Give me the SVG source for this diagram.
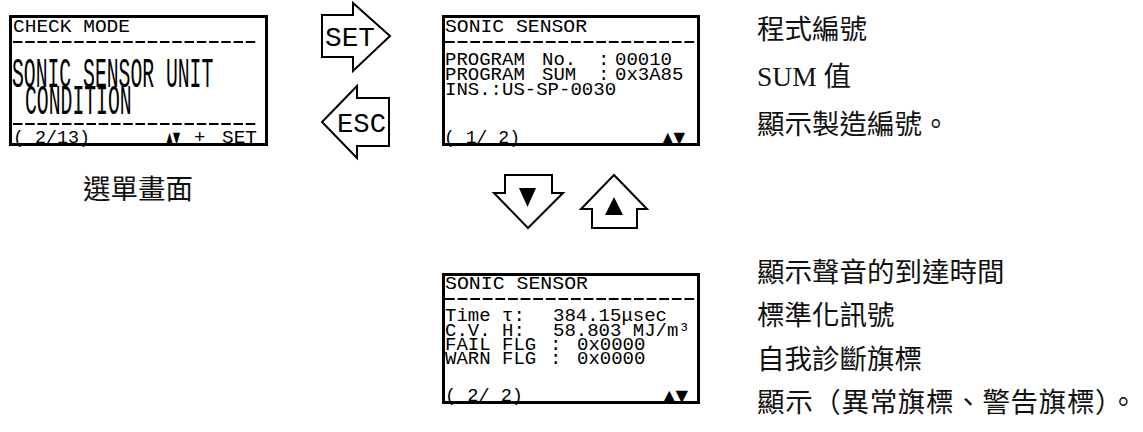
<svg xmlns="http://www.w3.org/2000/svg" width="1143" height="432" viewBox="0 0 1143 432">
<style>
.lcd{font-family:"Liberation Mono","DejaVu Sans Mono",monospace;font-size:19px;fill:#000}
.big{font-size:42px}
.sym{font-family:"DejaVu Sans",sans-serif;font-size:16px;fill:#000}
.box{fill:#fff;stroke:#000;stroke-width:3}
.dash{stroke:#000;stroke-width:2;fill:none}
.btn{fill:#fff;stroke:#000;stroke-width:2}
.btxt{font-family:"Liberation Mono","DejaVu Sans Mono",monospace;font-size:28px;fill:#000}
.lbl{font-family:"Liberation Serif","Noto Sans CJK TC",serif;font-size:27.5px;fill:#111}
</style>

<g id="screen-menu">
<rect class="box" x="10.5" y="16.5" width="256" height="128"/>
<text class="lcd" x="13" y="32" textLength="117" lengthAdjust="spacingAndGlyphs">CHECK MODE</text>
<line class="dash" x1="13" y1="42" x2="258" y2="42" stroke-dasharray="9.5 2.75"/>
<text class="lcd big" transform="translate(12,0) scale(0.47,1)"><tspan x="0" y="87">SONIC SENSOR UNIT</tspan><tspan x="27.7" y="114">CONDITION</tspan></text>
<line class="dash" x1="13" y1="124" x2="258" y2="124" stroke-dasharray="9.5 2.75"/>
<text class="lcd" x="13" y="143" textLength="77" lengthAdjust="spacingAndGlyphs">( 2/13)</text>
<text class="sym" x="166" y="143" textLength="14" lengthAdjust="spacingAndGlyphs">▲▼</text>
<text class="lcd" x="194" y="143">+</text>
<text class="lcd" x="222" y="143" textLength="35" lengthAdjust="spacingAndGlyphs">SET</text>
</g>

<g id="btn-set">
<polygon class="btn" points="322,15 353,15 353,3 390,36 353,71 353,57 322,57"/>
<text class="btxt" x="325" y="46" textLength="50" lengthAdjust="spacingAndGlyphs">SET</text>
</g>

<g id="btn-esc">
<polygon class="btn" points="389,98 357,98 357,86 322,122 357,158 357,146 389,146"/>
<text class="btxt" x="337" y="132" textLength="49" lengthAdjust="spacingAndGlyphs">ESC</text>
</g>

<g id="screen-info1">
<rect class="box" x="443.5" y="16.5" width="255" height="128"/>
<text class="lcd" x="445" y="32" textLength="142" lengthAdjust="spacingAndGlyphs">SONIC SENSOR</text>
<line class="dash" x1="445" y1="42" x2="697" y2="42" stroke-dasharray="9.8 2.8"/>
<text class="lcd"><tspan x="445" y="65">PROGRAM</tspan><tspan x="542" y="65">No.</tspan><tspan x="598" y="65">:</tspan><tspan x="615" y="65">00010</tspan><tspan x="445" y="80">PROGRAM</tspan><tspan x="542" y="80">SUM</tspan><tspan x="598" y="80">:</tspan><tspan x="615" y="80">0x3A85</tspan><tspan x="445" y="95">INS.:US-SP-0030</tspan></text>
<text class="lcd" x="444" y="143" textLength="76" lengthAdjust="spacingAndGlyphs">( 1/ 2)</text>
<text class="sym" x="662" y="143" textLength="23" lengthAdjust="spacingAndGlyphs">▲▼</text>
</g>

<g id="btn-down">
<polygon class="btn" points="505,175 552,175 552,193 563,193 528,228 494,193 505,193"/>
<polygon fill="#000" points="519,188 536,188 527.5,207"/>
</g>

<g id="btn-up">
<polygon class="btn" points="614,175 647,209 637,209 637,228 592,228 592,209 581,209"/>
<polygon fill="#000" points="614,197 623,215 605,215"/>
</g>

<g id="screen-info2">
<rect class="box" x="443.5" y="274.5" width="255" height="128"/>
<text class="lcd" x="445" y="289" textLength="143" lengthAdjust="spacingAndGlyphs">SONIC SENSOR</text>
<line class="dash" x1="445" y1="299" x2="697" y2="299" stroke-dasharray="9.8 2.8"/>
<text class="lcd"><tspan x="445" y="321">Time</tspan><tspan x="502" y="321">τ:</tspan><tspan x="553" y="321">384.15μsec</tspan><tspan x="445" y="336">C.V.</tspan><tspan x="502" y="336">H:</tspan><tspan x="553" y="336">58.803 MJ/m³</tspan><tspan x="445" y="350">FAIL</tspan><tspan x="502" y="350">FLG</tspan><tspan x="550" y="350">:</tspan><tspan x="577" y="350">0x0000</tspan><tspan x="445" y="364">WARN</tspan><tspan x="502" y="364">FLG</tspan><tspan x="550" y="364">:</tspan><tspan x="577" y="364">0x0000</tspan></text>
<text class="lcd" x="445" y="401" textLength="78" lengthAdjust="spacingAndGlyphs">( 2/ 2)</text>
<text class="sym" x="663" y="401" textLength="25" lengthAdjust="spacingAndGlyphs">▲▼</text>
</g>

<g id="labels">
<text class="lbl" x="83" y="199">選單畫面</text>
<text class="lbl" x="757" y="39">程式編號</text>
<text class="lbl" x="757" y="86">SUM 值</text>
<text class="lbl" x="757" y="134">顯示製造編號。</text>
<text class="lbl" x="757" y="282">顯示聲音的到達時間</text>
<text class="lbl" x="757" y="325">標準化訊號</text>
<text class="lbl" x="757" y="369">自我診斷旗標</text>
<text class="lbl" x="757" y="412" textLength="380" lengthAdjust="spacing">顯示（異常旗標、警告旗標）。</text>
</g>
</svg>
